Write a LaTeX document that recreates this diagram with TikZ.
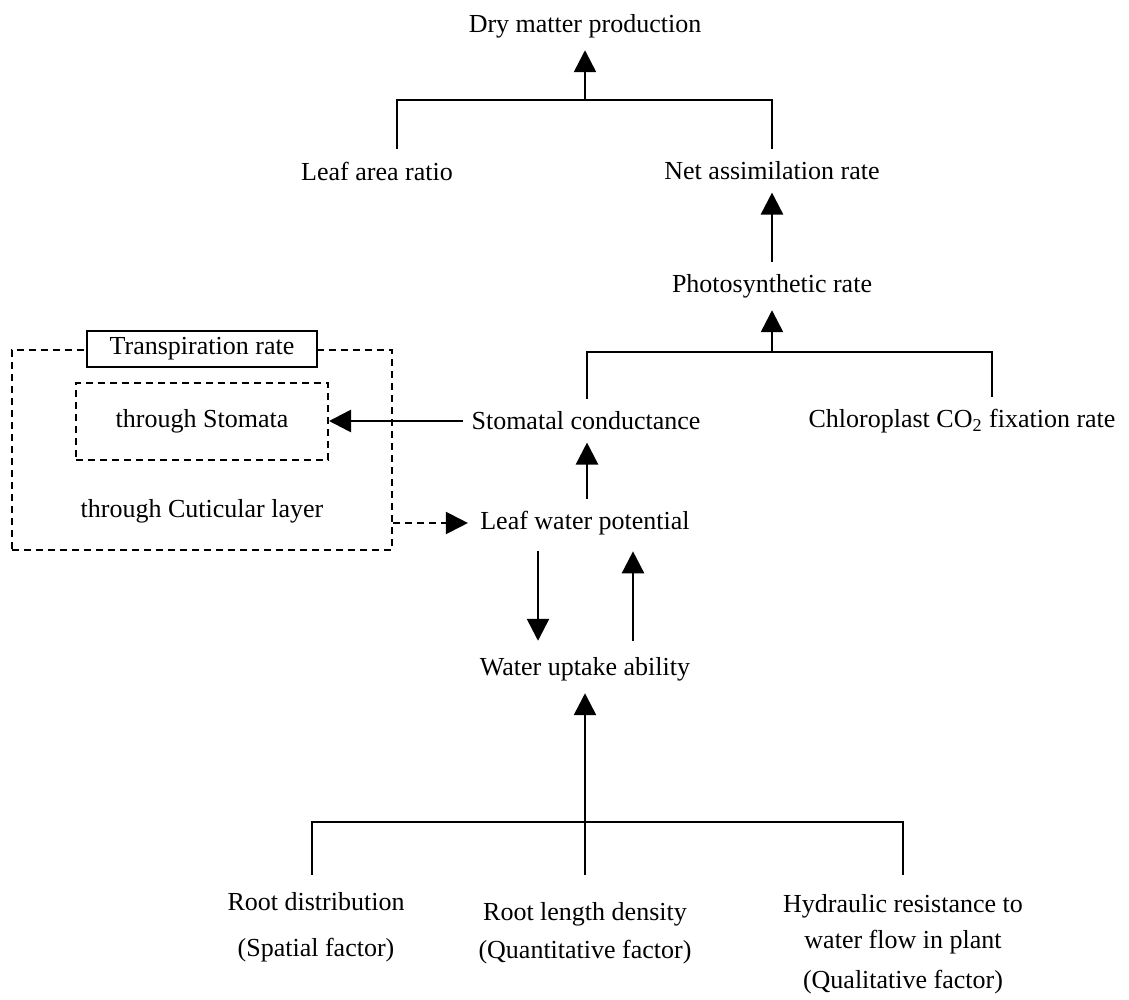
\documentclass[tikz,border=0pt]{standalone}
\usepackage{fontspec}
\setmainfont{Liberation Serif}
\usetikzlibrary{arrows.meta,calc}
\begin{document}
\begin{tikzpicture}[x=0.5pt,y=-0.5pt,
  txt/.style={inner xsep=6pt, inner ysep=6pt, font=\fontsize{13}{15}\selectfont, align=center},
  ln/.style={line width=1.3pt},
  arr/.style={line width=1.3pt, -{Triangle[width=11pt,length=11pt]}},
  darr/.style={line width=1pt, dash pattern=on 3.5pt off 2.5pt, -{Triangle[width=11pt,length=11pt]}},
  dbox/.style={draw, line width=1pt, dash pattern=on 3.5pt off 2.5pt, inner sep=0pt}]
\useasboundingbox (0,0) rectangle (1129,1000);
% nodes
\node[txt] (dmp) at (585,26) {Dry matter production};
\node[txt] (lar) at (377,171) {Leaf area ratio};
\node[txt] (nar) at (772,171) {Net assimilation rate};
\node[txt] (psr) at (772,286) {Photosynthetic rate};
\node[txt] (sc) at (586,421) {Stomatal conductance};
\node[txt] (cfr) at (962,421) {Chloroplast CO\textsubscript{2} fixation rate};
\node[txt] (lwp) at (585,523) {Leaf water potential};
\node[txt] (wua) at (585,669) {Water uptake ability};
% transpiration boxes
\node[dbox, minimum width=190pt, minimum height=100pt] (outer) at (202,450) {};
\node[draw, line width=0.8pt, fill=white, minimum width=115pt, minimum height=18pt, inner sep=0pt, font=\fontsize{13}{15}\selectfont] (tr) at (202,349) {Transpiration rate};
\node[dbox, minimum width=126pt, minimum height=38.5pt, font=\fontsize{13}{15}\selectfont] (stom) at (202,421) {through Stomata};
\node[txt] (cut) at (202,511) {through Cuticular layer};
% bottom labels
\node[txt, anchor=north] (rd) at (316,880) {Root distribution\\[8pt](Spatial factor)};
\node[txt, anchor=north] (rld) at (585,890) {Root length density\\[4pt](Quantitative factor)};
\node[txt, anchor=north] (hr) at (903,882) {Hydraulic resistance to\\[3pt]water flow in plant\\[5pt](Qualitative factor)};
% top bracket
\coordinate (b1) at (585,100);
\coordinate (b1l) at (397,100);
\coordinate (b1r) at (772,100);
\draw[ln] (b1l |- lar.north) -- (b1l) -- (b1r) -- (b1r |- nar.north);
\draw[arr] (b1) -- (dmp.south);
\draw[arr] (psr.north) -- (nar.south);
% middle bracket
\coordinate (b2) at (772,352);
\coordinate (b2l) at (587,352);
\coordinate (b2r) at (992,352);
\draw[ln] (b2l |- sc.north) -- (b2l) -- (b2r) -- (b2r |- cfr.north);
\draw[arr] (b2) -- (psr.south);
% stomatal
\draw[arr] ([xshift=2pt]sc.west |- stom.east) -- (stom.east);
\draw[arr] (b2l |- lwp.north) -- (b2l |- sc.south);
\draw[darr] (outer.east |- lwp.west) -- (lwp.west);
% lwp <-> wua
\coordinate (a1) at (538,600);
\coordinate (a2) at (633,600);
\draw[arr] ([yshift=-2pt]a1 |- lwp.south) -- ([yshift=2pt]a1 |- wua.north);
\draw[arr] ([yshift=2pt]a2 |- wua.north) -- ([yshift=-2pt]a2 |- lwp.south);
% bottom bracket
\coordinate (b3) at (585,822);
\coordinate (b3l) at (312,822);
\coordinate (b3r) at (903,822);
\coordinate (e1) at (312,875);
\coordinate (e2) at (585,875);
\coordinate (e3) at (903,875);
\draw[ln] (e1) -- (b3l) -- (b3r) -- (e3);
\draw[ln] (b3) -- (e2);
\draw[arr] (b3) -- (wua.south);
\end{tikzpicture}
\end{document}
